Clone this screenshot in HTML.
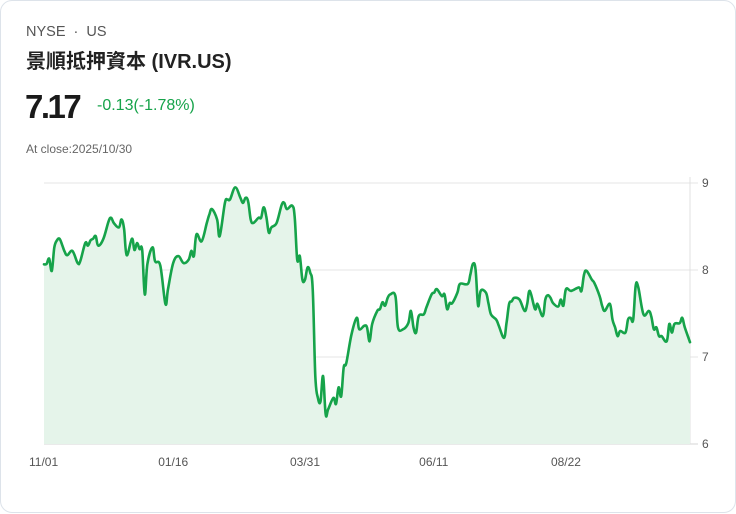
<!DOCTYPE html>
<html><head><meta charset="utf-8">
<style>
body{margin:0;width:736px;height:513px;background:#fff;font-family:"Liberation Sans","Noto Sans CJK TC",sans-serif;overflow:hidden}
.card{position:absolute;left:0;top:0;width:734px;height:511px;border:1px solid #dde3ea;border-radius:12px;background:#fff}
.t{position:absolute;white-space:nowrap}
</style></head><body>
<div class="card">
<div class="t" style="left:25px;top:23px;font-size:14.5px;color:#555">NYSE&nbsp; · &nbsp;US</div>
<div class="t" style="left:25px;top:44px;font-size:20px;font-weight:bold;color:#222">景順抵押資本 (IVR.US)</div>
<div class="t" style="left:24px;top:87px;font-size:33px;font-weight:bold;color:#1a1a1a;letter-spacing:-2.5px">7.17</div>
<div class="t" style="left:96px;top:96px;font-size:16px;color:#16a34a">-0.13(-1.78%)</div>
<div class="t" style="left:25px;top:141px;font-size:12px;color:#666">At close:2025/10/30</div>
<svg id="chart" width="736" height="513" style="position:absolute;left:0;top:0"></svg>
</div>
<script>
const days=[0,1,2,3,4,5,6,7,8,9,11,13,14,16,17,18,19,20,21,23,25,26,27,29,30,31,32,34,35,36,37,38,39,40,42,43,45,47,48,50,52,54,56,57,58,59,61,63,64,65,67,68,70,71,72,74,76,77,78,79,80,81,83,84,85,86,87,88,90,92,93,94,96,97,98,99,100,101,102,103,104,105,106,107,108,109,110,112,113,114,115,116,117,119,121,122,124,125,126,127,129,130,131,132,133,134,136,137,139,141,142,143,144,145,147,148,150,151,152,154,155,156,157,158,160,161,164,165,166,167,168,169,171,172,173,175,176,178,179,180,181,182,184,186,187,188,190,191,193,194,195,196,197,199,200,201,202,204,207,208,209,210,212,213,215,216,217,219,220,221,222,223,225,226,227,228,229,230,232,234,235,236,237,238,239,241,242,243,244,246,247,248,250];
const prices=[8.065,8.07,8.13,7.99,8.26,8.34,8.36,8.29,8.21,8.17,8.22,8.08,8.10,8.31,8.28,8.34,8.36,8.39,8.28,8.36,8.56,8.60,8.54,8.49,8.58,8.47,8.17,8.36,8.23,8.31,8.24,8.23,7.72,8.07,8.26,8.10,8.05,7.61,7.78,8.08,8.16,8.08,8.12,8.22,8.16,8.41,8.33,8.54,8.64,8.70,8.58,8.39,8.77,8.81,8.81,8.95,8.83,8.77,8.83,8.79,8.58,8.54,8.60,8.60,8.72,8.62,8.43,8.49,8.54,8.75,8.77,8.70,8.74,8.62,8.12,8.16,7.89,7.89,8.03,7.97,7.78,6.78,6.53,6.49,6.78,6.34,6.40,6.53,6.46,6.65,6.55,6.88,6.93,7.26,7.45,7.32,7.36,7.34,7.18,7.38,7.53,7.55,7.63,7.59,7.68,7.72,7.70,7.34,7.32,7.39,7.53,7.34,7.28,7.47,7.49,7.57,7.72,7.74,7.78,7.70,7.72,7.55,7.62,7.62,7.74,7.84,7.84,7.95,8.07,8.01,7.59,7.76,7.74,7.62,7.49,7.43,7.36,7.22,7.39,7.61,7.64,7.68,7.66,7.53,7.61,7.76,7.55,7.61,7.47,7.66,7.71,7.68,7.62,7.58,7.66,7.59,7.78,7.76,7.80,7.76,7.95,7.99,7.89,7.85,7.70,7.59,7.53,7.61,7.43,7.34,7.24,7.30,7.28,7.43,7.45,7.43,7.82,7.80,7.49,7.53,7.47,7.32,7.34,7.24,7.24,7.18,7.38,7.28,7.38,7.39,7.45,7.34,7.17];
const yTicks=[6,7,8,9];
const xTickDays=[0,50,101,151,202];
const xTickLabels=["11/01","01/16","03/31","06/11","08/22"];
const NS="http://www.w3.org/2000/svg";
const svg=document.getElementById('chart');
const X0=43,X1=689,Y0=443,Y1=182,DMAX=250,VMIN=6,VMAX=9;
const xs=d=>X0+(d/DMAX)*(X1-X0);
const ys=v=>Y0-(v-VMIN)/(VMAX-VMIN)*(Y0-Y1);
function mk(tag,attrs){const e=document.createElementNS(NS,tag);for(const k in attrs)e.setAttribute(k,attrs[k]);svg.appendChild(e);return e;}
yTicks.forEach((v,i)=>{
  const l=mk('line',{x1:X0,x2:697,y1:ys(v),y2:ys(v),stroke:i==0?'#d6d6d6':'#e5e5e5','stroke-width':1});
  
  
  const t=mk('text',{x:701,y:ys(v)+4,'font-size':12,fill:'#555','font-family':'Liberation Sans, sans-serif'});
  t.textContent=v;
  
  
});
const ax=mk('line',{x1:X1,x2:X1,y1:Y1-6,y2:Y0,stroke:'#e0e0e0','stroke-width':1});


xTickDays.forEach((d,i)=>{
  const t=mk('text',{x:xs(d)-15,y:465,'font-size':12,fill:'#555','font-family':'Liberation Sans, sans-serif'});
  t.textContent=xTickLabels[i];
  
  
});
const P=days.map((d,i)=>[xs(d),ys(prices[i])]);
let dpath='M'+P[0][0].toFixed(1)+','+P[0][1].toFixed(1);
for(let i=0;i<P.length-1;i++){
  const p0=P[Math.max(0,i-1)],p1=P[i],p2=P[i+1],p3=P[Math.min(P.length-1,i+2)];
  const t=0.18;
  const c1=[p1[0]+(p2[0]-p0[0])*t,p1[1]+(p2[1]-p0[1])*t];
  const c2=[p2[0]-(p3[0]-p1[0])*t,p2[1]-(p3[1]-p1[1])*t];
  dpath+=' C'+c1[0].toFixed(1)+','+c1[1].toFixed(1)+' '+c2[0].toFixed(1)+','+c2[1].toFixed(1)+' '+p2[0].toFixed(1)+','+p2[1].toFixed(1);
}
const area=mk('path',{d:dpath+' L'+P[P.length-1][0]+','+Y0+' L'+P[0][0]+','+Y0+' Z',fill:'#e5f4ea'});


const line=mk('path',{d:dpath,fill:'none',stroke:'#16a34a','stroke-width':2.6,'stroke-linejoin':'round','stroke-linecap':'round'});


</script>
</body></html>
